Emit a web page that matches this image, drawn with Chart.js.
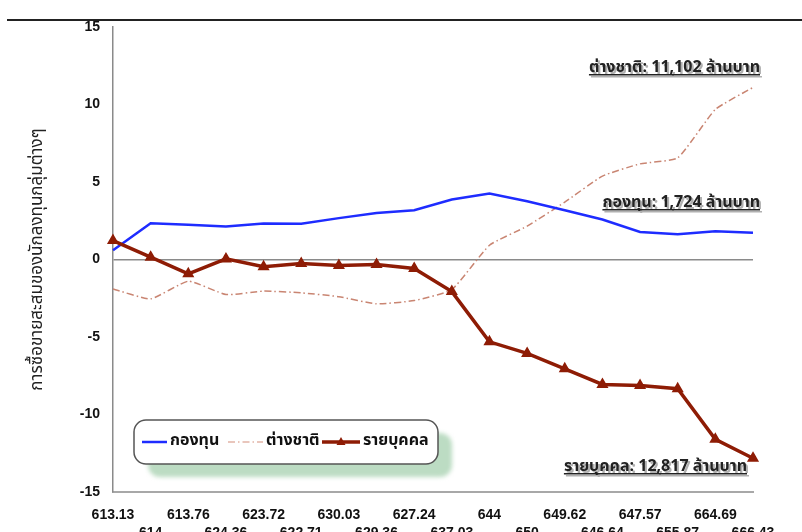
<!DOCTYPE html>
<html>
<head>
<meta charset="utf-8">
<script src="https://cdn.jsdelivr.net/npm/chart.js@4/dist/chart.umd.min.js"></script>
<style>
  html, body { margin: 0; padding: 0; background: #fff; }
  #wrap { position: relative; width: 802px; height: 532px; overflow: hidden; }
  #topline { position: absolute; left: 7px; right: 0; top: 19px; border-top: 2px solid #222; }
  canvas { position: absolute; left: 0; top: 0; }
</style>
</head>
<body>
<div id="wrap">
  <div id="topline"></div>
  <canvas id="chart" width="802" height="532"></canvas>
</div>
<script>
// ===== DATA =====
const labels = [
  "613.13", "614", "613.76", "624.36", "623.72", "622.71", "630.03", "629.36", "627.24",
  "637.03", "644", "650", "649.62", "646.64", "647.57", "655.87", "664.69", "666.43"
];
const fund = [0.6, 2.34, 2.24, 2.13, 2.32, 2.3, 2.67, 3.0, 3.18, 3.87, 4.26, 3.76, 3.18, 2.58, 1.78, 1.63, 1.83, 1.72];
const foreign = [-1.9, -2.54, -1.4, -2.26, -2.04, -2.15, -2.4, -2.86, -2.65, -1.94, 0.92, 2.15, 3.7, 5.38, 6.17, 6.56, 9.68, 11.1];
const individual = [1.22, 0.15, -0.92, 0.04, -0.47, -0.26, -0.39, -0.32, -0.58, -2.07, -5.31, -6.06, -7.05, -8.06, -8.13, -8.34, -11.6, -12.82];

const seriesNames = ["กองทุน", "ต่างชาติ", "รายบุคคล"];
const notes = [
  { text: "ต่างชาติ: 11,102 ล้านบาท", x: 760, y: 72 },
  { text: "กองทุน: 1,724 ล้านบาท", x: 760, y: 207 },
  { text: "รายบุคคล: 12,817 ล้านบาท", x: 747, y: 471 }
];

const THAI = '"Noto Sans Thai", "Liberation Serif", "DejaVu Serif", serif';

// ===== PLUGINS =====
const notesPlugin = {
  id: "notes",
  afterDraw(chart) {
    const ctx = chart.ctx;
    ctx.save();
    ctx.font = "bold 16px " + THAI;
    ctx.textAlign = "right";
    ctx.textBaseline = "alphabetic";
    notes.forEach((n) => {
      const w = ctx.measureText(n.text).width;
      // shadow
      ctx.fillStyle = "#b0b0b0";
      ctx.fillText(n.text, n.x + 2, n.y + 2);
      ctx.fillRect(n.x - w + 2, n.y + 4, w, 1.5);
      ctx.fillStyle = "#222";
      ctx.fillText(n.text, n.x, n.y);
      ctx.fillRect(n.x - w, n.y + 2, w, 1.5);
    });
    ctx.restore();
  }
};

const legendPlugin = {
  id: "boxLegend",
  afterDraw(chart) {
    const ctx = chart.ctx;
    const x = 134, y = 420, w = 304, h = 44, r = 12;
    ctx.save();
    // green shadow
    ctx.fillStyle = "#bcdcc3";
    ctx.filter = "blur(2px)";
    ctx.beginPath();
    ctx.roundRect(x + 14, y + 13, w, h, r);
    ctx.fill();
    ctx.filter = "none";
    // box
    ctx.fillStyle = "#fff";
    ctx.strokeStyle = "#555";
    ctx.lineWidth = 1.5;
    ctx.beginPath();
    ctx.roundRect(x, y, w, h, r);
    ctx.fill();
    ctx.stroke();

    const cy = y + 22;
    const items = [
      { x0: 142, x1: 167, tx: 170 },
      { x0: 228, x1: 263, tx: 266 },
      { x0: 322, x1: 360, tx: 363 }
    ];
    ctx.font = "bold 16px " + THAI;
    ctx.textBaseline = "middle";
    ctx.textAlign = "left";
    chart.data.datasets.forEach((ds, i) => {
      const it = items[i];
      ctx.strokeStyle = i === 1 ? "#e2b4a6" : ds.borderColor;
      ctx.lineWidth = ds.borderWidth;
      ctx.setLineDash(ds.borderDash || []);
      ctx.beginPath();
      ctx.moveTo(it.x0, cy);
      ctx.lineTo(it.x1, cy);
      ctx.stroke();
      ctx.setLineDash([]);
      if (ds.pointStyle === "triangle") {
        const mx = (it.x0 + it.x1) / 2;
        ctx.fillStyle = ds.borderColor;
        ctx.beginPath();
        ctx.moveTo(mx, cy - 5);
        ctx.lineTo(mx + 4.5, cy + 3);
        ctx.lineTo(mx - 4.5, cy + 3);
        ctx.closePath();
        ctx.fill();
      }
      ctx.fillStyle = "#111";
      ctx.fillText(seriesNames[i], it.tx, cy);
    });
    ctx.restore();
  }
};

// ===== CHART =====
new Chart(document.getElementById("chart"), {
  type: "line",
  data: {
    labels,
    datasets: [
      {
        label: seriesNames[0],
        data: fund,
        borderColor: "#1e2cff",
        borderWidth: 2.5,
        pointRadius: 0,
        tension: 0,
        order: 1
      },
      {
        label: seriesNames[1],
        data: foreign,
        borderColor: "#c98572",
        borderWidth: 1.5,
        borderDash: [7, 3, 1.5, 3],
        pointRadius: 0,
        tension: 0.15,
        order: 2
      },
      {
        label: seriesNames[2],
        data: individual,
        borderColor: "#8e1c05",
        backgroundColor: "#8e1c05",
        borderWidth: 3.5,
        pointStyle: "triangle",
        pointRadius: 3.5,
        tension: 0,
        order: 0
      }
    ]
  },
  options: {
    responsive: false,
    animation: false,
    layout: { padding: { top: 27, right: 49, left: 0, bottom: 0 } },
    plugins: {
      legend: { display: false },
      tooltip: { enabled: false }
    },
    scales: {
      x: {
        offset: false,
        grid: { display: false },
        border: { display: true, color: "#a8a8a8", width: 2 },
        ticks: {
          autoSkip: false,
          maxRotation: 0,
          padding: 6,
          color: "#111",
          font: { family: "Arial, 'Liberation Sans', sans-serif", size: 14, weight: "bold", lineHeight: 1.3 },
          callback: (v, i) => (i % 2 === 0 ? labels[i] : ["", labels[i]])
        },
        afterFit: (s) => { s.height = 40; }
      },
      y: {
        min: -15,
        max: 15,
        grid: {
          drawTicks: false,
          color: (c) => (c.tick && c.tick.value === 0 ? "#8a8a8a" : "transparent"),
          lineWidth: 1.5
        },
        border: { display: true, color: "#8a8a8a", width: 1.5 },
        ticks: {
          stepSize: 5,
          padding: 13,
          color: "#111",
          font: { family: "Arial, 'Liberation Sans', sans-serif", size: 14, weight: "bold" }
        },
        title: {
          display: true,
          text: "การซื้อขายสะสมของนักลงทุนกลุ่มต่างๆ",
          color: "#222",
          font: { family: THAI, size: 17, weight: "normal" },
          padding: { top: 28, bottom: 0 }
        },
        afterFit: (s) => { s.width = 113; }
      }
    }
  },
  plugins: [legendPlugin, notesPlugin]
});
</script>
</body>
</html>
